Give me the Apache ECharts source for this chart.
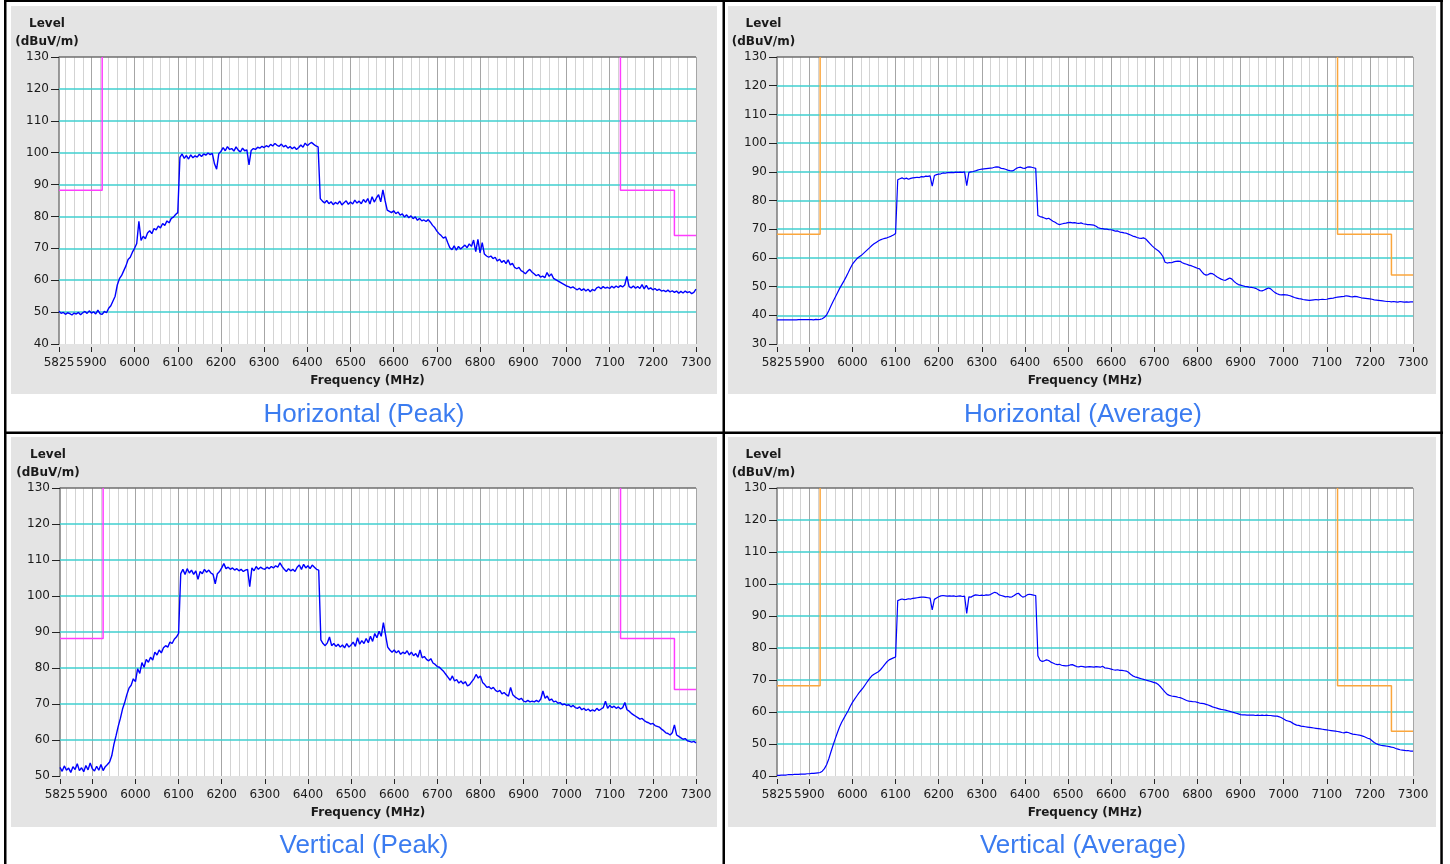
<!DOCTYPE html>
<html><head><meta charset="utf-8">
<script src="https://cdn.jsdelivr.net/npm/echarts@6/dist/echarts.min.js"></script>
<style>html,body{margin:0;padding:0;background:#fff;overflow:hidden}#c{width:1450px;height:864px}</style>
</head><body><div id="c"></div>
<script>
// Sampling grid of the traces (MHz)
const FREQ_START = 5825;
const FREQ_STEP = 5;

// X tick labels
const xTickValues = [5825, 5900, 6000, 6100, 6200, 6300, 6400, 6500, 6600, 6700, 6800, 6900, 7000, 7100, 7200, 7300];
const majorGridFreqs = [5900, 6000, 6100, 6200, 6300, 6400, 6500, 6600, 6700, 6800, 6900, 7000, 7100, 7200, 7300];

// Horizontal (Peak) trace, dBuV/m, every 5 MHz from 5825
const hPeak = [
50.3,49.6,49.9,49.3,49.8,49.5,49.1,49.7,49.4,49.9,49.2,49.8,50.2,49.6,50.4,49.7,50.1,49.4,50.6,49.5,
49.3,50.2,49.8,51.2,52.0,53.5,55.0,58.5,60.5,61.5,63.0,64.5,66.5,67.2,68.8,70.0,71.5,78.5,72.5,73.8,
73.0,74.8,75.5,74.6,76.2,75.8,77.0,76.4,77.8,77.2,78.6,78.0,79.4,79.8,80.6,81.2,98.5,99.6,98.2,99.1,
98.0,99.3,98.4,99.0,98.6,99.5,98.8,99.6,99.2,99.9,99.4,99.8,96.5,94.8,99.7,100.4,101.6,100.6,101.9,101.0,
101.3,100.5,101.8,100.8,100.2,101.4,100.6,100.9,96.2,100.7,101.3,101.0,101.7,101.4,102.0,101.6,102.2,101.8,102.6,102.1,
102.9,102.3,102.0,102.7,101.8,102.3,101.4,101.9,101.2,101.8,101.0,101.6,102.4,101.7,103.0,102.2,102.8,103.2,102.6,102.1,
101.8,85.6,84.8,84.2,85.0,84.0,84.6,83.7,84.4,83.9,84.8,83.6,84.3,84.9,83.8,84.5,83.9,85.1,84.2,84.8,
84.0,85.3,84.4,85.6,83.9,86.2,84.5,85.8,86.8,84.6,88.3,85.0,82.0,81.6,81.2,81.8,80.9,81.4,80.4,80.8,
79.8,80.5,79.6,80.2,79.3,79.9,78.8,79.4,78.6,78.9,78.4,79.0,78.2,77.2,76.5,75.4,74.6,74.0,73.2,73.6,
71.8,70.2,69.6,70.8,69.4,70.6,69.8,70.4,71.0,70.2,71.4,70.6,72.6,69.0,72.8,68.6,71.8,68.2,67.6,67.2,
67.6,66.8,67.2,66.0,66.6,65.6,66.2,65.2,66.4,64.8,65.3,64.0,63.6,64.0,63.0,62.6,62.0,62.8,63.4,62.6,
62.0,61.4,61.8,61.0,61.3,60.8,62.4,61.2,62.0,60.6,60.2,59.8,59.4,59.0,58.6,58.2,58.0,57.6,57.9,57.4,
57.0,57.5,56.8,57.3,56.6,57.2,56.4,57.1,56.7,57.6,57.9,57.3,58.0,57.5,57.8,57.4,58.1,57.6,58.2,57.7,
58.3,57.9,58.5,61.2,58.0,57.6,58.2,57.5,58.0,57.4,58.6,57.3,58.4,57.2,57.6,57.0,57.4,56.8,57.2,56.6,
56.8,56.4,56.9,56.3,56.7,56.2,56.6,55.9,56.5,56.0,56.6,56.1,56.4,55.8,56.2,57.2
];

// Horizontal (Average) trace
const hAvg = [
38.4,38.4,38.4,38.4,38.4,38.4,38.4,38.4,38.4,38.4,38.5,38.5,38.5,38.5,38.5,38.5,38.5,38.4,38.6,38.5,
38.6,38.8,39.3,40.1,41.6,43.2,44.8,46.3,47.8,49.3,50.6,51.9,53.3,54.8,56.4,57.8,58.8,59.7,60.3,60.8,
61.5,62.2,62.9,63.6,64.3,64.9,65.4,65.9,66.3,66.6,66.8,67.0,67.3,67.6,68.0,68.5,87.2,87.6,87.9,87.5,
87.8,87.4,87.7,87.9,88.0,88.1,88.0,88.3,88.2,88.5,88.4,88.6,85.0,88.7,89.0,89.2,89.3,89.6,89.5,89.7,
89.7,89.8,89.7,89.9,89.8,89.9,89.8,90.0,85.2,89.8,90.0,90.1,90.3,90.6,90.8,90.9,91.0,91.1,91.2,91.3,
91.4,91.6,91.7,91.6,91.2,91.1,90.9,90.6,90.4,90.3,90.6,91.2,91.5,91.6,91.3,91.2,91.6,91.7,91.6,91.4,
91.2,74.8,74.4,74.2,73.9,73.6,73.8,73.3,72.8,72.4,71.9,71.6,71.8,72.0,72.1,72.3,72.4,72.2,72.3,72.1,
72.0,72.2,71.9,71.8,71.6,71.6,71.5,71.4,71.0,70.5,70.3,70.2,70.0,70.0,69.8,69.8,69.6,69.3,69.4,69.0,
68.9,68.7,68.6,68.3,68.0,67.6,67.4,67.1,66.9,66.8,67.0,66.6,65.8,65.0,64.2,63.5,62.9,62.4,61.6,60.5,
58.5,58.2,58.4,58.3,58.6,58.8,58.9,58.8,58.3,58.0,57.8,57.5,57.3,57.0,56.7,56.4,56.2,55.2,54.4,54.0,
54.2,54.6,54.5,54.0,53.4,53.0,52.6,52.3,52.2,52.6,53.0,52.6,51.8,51.2,50.7,50.5,50.3,50.1,50.0,49.8,
49.7,49.6,49.4,49.0,48.6,48.5,48.8,49.2,49.5,49.2,48.5,47.9,47.5,47.2,47.1,47.2,47.1,47.0,46.8,46.5,
46.2,46.0,45.8,45.7,45.5,45.4,45.3,45.2,45.3,45.4,45.5,45.4,45.5,45.6,45.5,45.6,45.8,45.9,46.0,46.2,
46.3,46.4,46.5,46.6,46.8,46.7,46.5,46.4,46.6,46.5,46.3,46.1,46.0,45.9,45.8,45.7,45.6,45.4,45.3,45.2,
45.1,45.0,44.9,44.8,44.8,44.7,44.8,44.7,44.6,44.8,44.7,44.6,44.7,44.6,44.7,44.7
];

// Vertical (Peak) trace
const vPeak = [
52.4,51.3,52.8,51.6,52.2,51.0,52.6,51.8,53.4,51.5,52.3,51.2,52.9,51.7,53.6,52.0,51.4,52.7,51.6,53.2,
51.5,52.6,53.2,53.9,55.6,58.8,61.2,63.8,66.0,68.6,70.4,72.6,74.4,75.2,77.0,76.2,79.8,78.5,81.5,80.2,
82.4,81.6,83.0,82.2,84.4,83.6,85.0,84.2,85.6,86.2,85.8,87.2,86.8,88.0,88.6,89.6,106.2,107.4,106.0,107.6,
106.4,107.2,106.0,107.0,104.6,106.8,106.2,107.4,106.6,107.2,106.4,106.0,103.4,106.2,106.8,107.8,109.0,107.6,108.0,107.4,
107.8,107.2,107.6,107.0,107.4,106.8,107.2,107.4,102.6,107.8,107.0,108.2,107.4,108.0,107.6,107.4,108.0,107.6,108.2,107.8,
108.4,108.0,109.2,108.2,107.4,106.8,107.6,107.0,107.4,106.8,108.0,108.6,107.4,108.8,107.8,108.4,107.6,108.6,108.0,107.4,
107.2,87.8,86.8,86.2,87.0,88.6,86.2,86.8,86.0,86.6,85.8,86.4,85.6,86.8,85.8,86.4,87.2,86.0,88.4,86.6,
87.6,86.8,88.2,87.0,88.8,87.4,89.6,88.4,90.2,88.8,92.6,89.2,85.8,85.0,84.4,85.0,84.2,84.8,83.8,84.4,
84.0,84.8,83.6,84.4,83.4,84.0,83.0,85.0,82.8,83.2,82.4,82.0,82.6,81.4,81.0,80.4,80.2,79.6,79.0,78.2,
77.4,76.6,77.8,76.4,76.8,75.8,76.4,75.6,76.2,75.0,75.4,76.2,77.0,78.2,77.2,77.8,76.0,75.4,74.6,74.8,
74.2,74.6,73.8,73.4,73.8,72.8,73.2,72.6,72.2,74.6,72.6,72.0,71.6,71.2,71.6,70.8,70.6,71.0,70.6,70.8,
70.6,71.0,70.6,71.4,73.6,71.6,72.2,71.0,71.4,70.6,70.8,70.2,70.4,69.8,70.0,69.6,69.8,69.2,69.6,69.0,
68.8,69.2,68.4,68.8,68.2,68.6,68.0,68.4,68.0,68.8,68.2,68.6,69.0,70.8,68.8,69.6,69.0,69.4,68.8,69.2,
68.6,69.0,70.4,68.4,68.0,67.4,67.0,66.6,66.2,65.8,66.0,65.4,65.0,64.8,64.4,64.6,64.0,63.8,63.6,63.0,
62.6,62.0,61.8,61.4,62.0,64.2,61.4,61.0,60.6,60.2,60.4,59.8,59.6,59.4,59.6,59.2
];

// Vertical (Average) trace
const vAvg = [
40.2,40.2,40.3,40.3,40.3,40.4,40.4,40.4,40.5,40.5,40.5,40.6,40.6,40.6,40.7,40.7,40.8,40.8,40.9,41.0,
41.1,41.5,42.3,43.5,45.3,47.5,49.6,51.6,53.5,55.3,56.8,58.0,59.2,60.4,61.8,63.0,64.0,65.0,66.0,66.8,
67.6,68.6,69.6,70.5,71.3,71.8,72.2,72.6,73.2,74.0,74.9,75.7,76.3,76.6,76.9,77.2,94.8,95.1,95.3,95.1,
95.2,95.4,95.3,95.5,95.6,95.7,95.8,95.9,95.9,95.8,95.7,95.6,91.9,95.2,95.6,96.0,96.3,96.4,96.3,96.2,
96.3,96.2,96.3,96.1,96.2,96.3,96.1,96.2,90.8,96.0,95.9,96.3,96.6,96.5,96.4,96.5,96.4,96.6,96.5,96.7,
97.1,97.4,97.2,96.6,96.4,96.2,96.0,96.1,95.9,96.0,96.4,96.9,97.1,96.4,95.9,96.1,96.6,96.8,96.7,96.5,
96.4,77.6,76.2,75.8,76.0,76.3,76.1,75.6,75.3,75.0,74.8,74.9,74.6,74.5,74.4,74.5,74.7,74.8,74.5,74.2,
74.1,74.3,74.2,74.0,74.1,74.2,74.1,74.0,74.2,74.1,74.0,74.3,73.8,73.7,73.6,73.4,73.2,73.1,73.2,73.0,
73.0,72.9,72.8,72.4,71.8,71.3,71.0,70.8,70.6,70.4,70.2,70.0,69.8,69.6,69.4,69.2,69.0,68.5,67.8,67.0,
66.2,65.5,65.2,65.0,64.9,64.8,64.6,64.5,64.2,63.9,63.6,63.4,63.3,63.2,63.2,63.0,62.8,62.7,62.6,62.4,
62.2,61.9,61.6,61.4,61.2,61.0,60.8,60.7,60.6,60.4,60.2,60.0,59.8,59.6,59.4,59.2,59.1,59.1,59.0,59.0,
59.0,59.0,58.9,59.0,58.9,59.0,58.9,59.0,58.9,58.9,58.8,58.7,58.7,58.5,58.2,57.8,57.4,57.2,57.0,56.6,
56.2,55.9,55.8,55.6,55.5,55.4,55.3,55.2,55.1,55.0,54.9,54.8,54.7,54.6,54.5,54.4,54.3,54.2,54.1,54.0,
53.9,53.8,53.6,53.5,53.7,53.6,53.3,53.1,53.0,52.9,52.8,52.6,52.4,52.1,51.8,51.6,51.0,50.5,50.1,49.8,
49.6,49.5,49.4,49.3,49.2,49.0,48.9,48.6,48.4,48.2,48.1,48.0,47.9,47.9,47.8,47.8
];

// Limit lines [MHz, dBuV/m]
const peakLimitLow = [[5825, 88.2], [5925, 88.2], [5925, 130]];
const peakLimitHigh = [[7125, 130], [7125, 88.2], [7250, 88.2], [7250, 74], [7300, 74]];
const avgLimitLow = [[5825, 68.2], [5925, 68.2], [5925, 130]];
const avgLimitHigh = [[7125, 130], [7125, 68.2], [7250, 68.2], [7250, 54], [7300, 54]];

const captions = ['Horizontal (Peak)', 'Horizontal (Average)', 'Vertical (Peak)', 'Vertical (Average)'];
const yMins = [40, 30, 50, 40];

const panels = [
  {grid: {left: 59, top: 57, width: 637, height: 287}, vals: hPeak, lims: [peakLimitLow, peakLimitHigh], limColor: '#ff3cff', cap: [364, 415], shift: 24, lw: 1.4},
  {grid: {left: 777, top: 57, width: 636, height: 287}, vals: hAvg, lims: [avgLimitLow, avgLimitHigh], limColor: '#fba63c', cap: [1083, 415], shift: 27, lw: 1.2},
  {grid: {left: 60, top: 488, width: 636, height: 288}, vals: vPeak, lims: [peakLimitLow, peakLimitHigh], limColor: '#ff3cff', cap: [364, 846], shift: 24, lw: 1.4},
  {grid: {left: 777, top: 488, width: 636, height: 288}, vals: vAvg, lims: [avgLimitLow, avgLimitHigh], limColor: '#fba63c', cap: [1083, 846], shift: 27, lw: 1.2}
];

const FONT = 'DejaVu Sans';
const minorGridFreqs = [];
for (let f = 5840; f <= 7300; f += 20) if (f % 100 !== 0) minorGridFreqs.push(f);

const grids = [], xAxes = [], yAxes = [], series = [], graphics = [];

// frame: gray panels, black table borders
[[11, 6, 706, 388], [728, 6, 708, 388], [11, 437, 706, 390], [728, 437, 708, 390]].forEach(r => {
  graphics.push({type: 'rect', z: -10, shape: {x: r[0], y: r[1], width: r[2], height: r[3]}, style: {fill: '#e4e4e4'}});
});
[[4, 0, 1439, 2], [4, 0, 2.5, 864], [722.5, 0, 2.5, 864], [1440.3, 0, 2.5, 864], [4, 431.5, 1439, 2.5]].forEach(r => {
  graphics.push({type: 'rect', z: 100, shape: {x: r[0], y: r[1], width: r[2], height: r[3]}, style: {fill: '#000'}});
});

function mlSeries(i, z, color, width, data) {
  return {type: 'line', xAxisIndex: i, yAxisIndex: i, data: [], z: z, silent: true,
    markLine: {z: z, silent: true, animation: false, symbol: ['none', 'none'], label: {show: false},
      emphasis: {disabled: true}, lineStyle: {color: color, width: width, type: 'solid'}, data: data}};
}

panels.forEach((p, i) => {
  const yMin = yMins[i];
  grids.push(Object.assign({show: true, backgroundColor: '#ffffff', borderWidth: 0}, p.grid));
  xAxes.push({
    gridIndex: i, type: 'value', min: 5825, max: 7300, offset: 3,
    axisLine: {show: false},
    axisTick: {show: true, customValues: xTickValues, length: 5, lineStyle: {color: '#222', width: 1}},
    axisLabel: {customValues: xTickValues, showMinLabel: true, showMaxLabel: true, hideOverlap: false,
      formatter: v => String(v), margin: 10, fontFamily: FONT, fontSize: 12, color: '#1a1a1a'},
    splitLine: {show: false},
    name: 'Frequency (MHz)', nameLocation: 'middle', nameGap: 28,
    nameTextStyle: {fontFamily: FONT, fontSize: 12, fontWeight: 'bold', color: '#1a1a1a', padding: [0, 20, 0, 0]}
  });
  yAxes.push({
    gridIndex: i, type: 'value', min: yMin, max: 130, interval: 10,
    axisLine: {show: true, lineStyle: {color: '#7a7a7a', width: 1.5}},
    axisTick: {show: true, length: 8, lineStyle: {color: '#222', width: 1}},
    axisLabel: {margin: 10, fontFamily: FONT, fontSize: 12, color: '#1a1a1a'},
    splitLine: {show: false},
    name: 'Level\n(dBuV/m)', nameLocation: 'end', nameGap: 6,
    nameTextStyle: {fontFamily: FONT, fontSize: 12, fontWeight: 'bold', color: '#1a1a1a', lineHeight: 18, align: 'center', padding: [0, p.shift, 0, 0]}
  });
  series.push(mlSeries(i, 1, '#d3d3d3', 1, minorGridFreqs.map(f => ({xAxis: f}))));
  series.push(mlSeries(i, 1, '#a6a6a6', 1, majorGridFreqs.map(f => ({xAxis: f}))));
  const hLines = [];
  for (let v = yMin + 10; v < 130; v += 10) hLines.push({yAxis: v});
  series.push(mlSeries(i, 2, '#3fcfcf', 1.5, hLines));
  series.push(mlSeries(i, 2, '#6e6e6e', 1.5, [{yAxis: 130}]));
  p.lims.forEach(l => {
    series.push({type: 'line', xAxisIndex: i, yAxisIndex: i, data: l, z: 3, symbol: 'none', silent: true,
      lineStyle: {color: p.limColor, width: 1.5}, itemStyle: {color: p.limColor}});
  });
  series.push({type: 'line', xAxisIndex: i, yAxisIndex: i, z: 4, symbol: 'none', silent: true,
    data: p.vals.map((v, k) => [FREQ_START + k * FREQ_STEP, v]),
    lineStyle: {color: '#0000ff', width: p.lw}, itemStyle: {color: '#0000ff'}});
  graphics.push({type: 'text', z: 50, x: p.cap[0], y: p.cap[1],
    style: {text: captions[i], align: 'center', verticalAlign: 'middle', fill: '#3b7cf0',
      font: '26px "Liberation Sans", Arial, sans-serif'}});
});

const chart = echarts.init(document.getElementById('c'), null, {renderer: 'canvas'});
chart.setOption({
  animation: false,
  backgroundColor: '#ffffff',
  grid: grids, xAxis: xAxes, yAxis: yAxes, series: series,
  graphic: {elements: graphics}
});
</script></body></html>
